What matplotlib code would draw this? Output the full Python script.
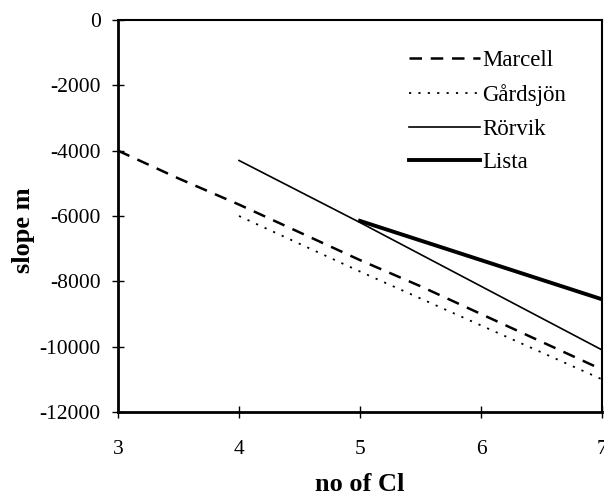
import matplotlib.pyplot as plt

# valeurs
x_marcell = [3, 3.5, 4, 4.5, 5, 5.5, 6, 6.5, 7]
y_marcell = [-4000, -4850, -5650, -6500, -7350, -8150, -9000, -9850, -10700]
x_gardsjon = [4, 5, 6, 7]
y_gardsjon = [-6000, -7700, -9350, -11000]
x_rorvik = [4, 5, 6, 7]
y_rorvik = [-4300, -6200, -8150, -10100]
x_lista = [5, 7]
y_lista = [-6150, -8550]

xticks = [3, 4, 5, 6, 7]
yticks = [0, -2000, -4000, -6000, -8000, -10000, -12000]

plt.rcParams['font.family'] = ['Liberation Serif', 'DejaVu Serif']
plt.rcParams['axes.unicode_minus'] = False

fig = plt.figure(figsize=(6.04, 4.95), dpi=100)
ax = fig.add_axes([118 / 604, 1 - 412 / 495, 484 / 604, 392 / 495])

ax.plot(x_marcell, y_marcell, color='black', lw=1.8, ls=(0, (5, 3.5)), label='Marcell')
ax.plot(x_gardsjon, y_gardsjon, color='black', lw=1.3, ls=(0, (1.2, 4)), label='Gårdsjön')
ax.plot(x_rorvik, y_rorvik, color='black', lw=1.2, label='Rörvik')
ax.plot(x_lista, y_lista, color='black', lw=2.8, label='Lista')

ax.set_xlim(3, 7)
ax.set_ylim(-12000, 0)
ax.set_xticks(xticks)
ax.set_yticks(yticks)
ax.tick_params(direction='inout', length=9, width=1, labelsize=15.5)
ax.tick_params(axis='x', pad=16)
ax.tick_params(axis='y', pad=8)

for side in ['left', 'bottom']:
    ax.spines[side].set_linewidth(2)
for side in ['top', 'right']:
    ax.spines[side].set_linewidth(1.5)

ax.set_xlabel('no of Cl', fontsize=19, fontweight='bold')
ax.set_ylabel('slope m', fontsize=19, fontweight='bold')
ax.xaxis.set_label_coords(0.5, -0.155)
ax.yaxis.set_label_coords(-0.171, 0.465)

ax.legend(loc='upper left', bbox_to_anchor=(0.559, 0.975), frameon=False, fontsize=16.5,
          handlelength=3.1, handletextpad=0.1, labelspacing=0.55)

fig.savefig('out.png', dpi=100)
